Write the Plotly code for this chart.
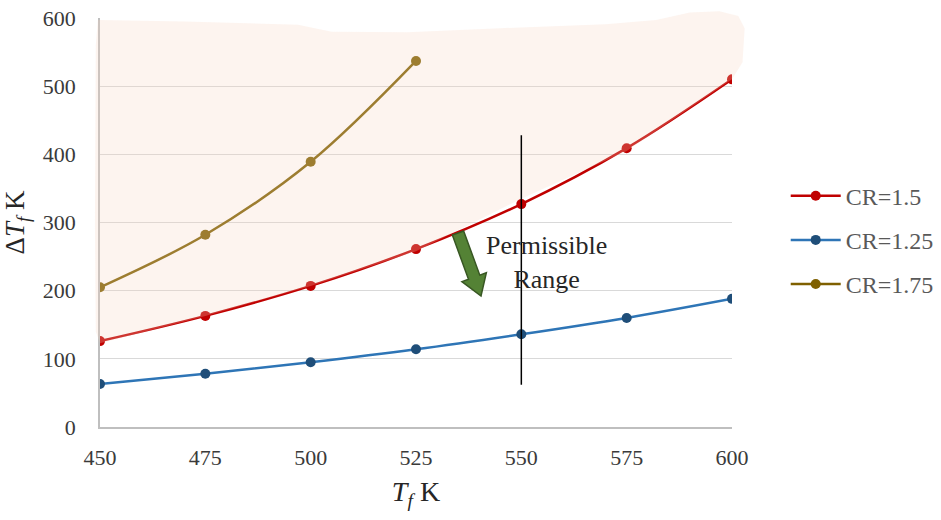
import plotly.graph_objects as go
import math

# ---- data ----
tf = [450, 475, 500, 525, 550, 575, 600]
cr150 = [126, 163, 207, 261, 327, 409, 510]
cr125 = [63, 78, 95, 114, 136, 160, 188]
tf175 = [450, 475, 500, 525]
cr175 = [205, 282, 389, 537]
x_ticks = [450, 475, 500, 525, 550, 575, 600]
y_ticks = [0, 100, 200, 300, 400, 500, 600]

XMIN, XMAX, YMIN, YMAX = 450, 600, 0, 600

def px(v):
    return (v - XMIN) / (XMAX - XMIN)

def py(v):
    return (v - YMIN) / (YMAX - YMIN)

fig = go.Figure()

fig.add_trace(go.Scatter(x=tf, y=cr150, name="CR=1.5", mode="lines+markers",
                         line=dict(color="#c00000", width=2.5, shape="spline"),
                         marker=dict(color="#c00000", size=10), legendgroup="a"))
fig.add_trace(go.Scatter(x=tf, y=cr125, name="CR=1.25", mode="lines+markers",
                         line=dict(color="#2e75b6", width=2.5, shape="spline"),
                         marker=dict(color="#1f4e79", size=10), legendgroup="b"))
fig.add_trace(go.Scatter(x=tf175, y=cr175, name="CR=1.75", mode="lines+markers",
                         line=dict(color="#7f6000", width=2.5, shape="spline"),
                         marker=dict(color="#7f6000", size=10), legendgroup="c"))

# shaded (hand-drawn) region outline: top/right edge, then down left side, then along red curve
outline_top = [(602.5, 535), (603, 585), (601.5, 603), (597, 610), (590, 608),
               (582, 597), (570, 591), (545, 585), (523, 579), (505, 580),
               (497, 590), (470, 595), (449.5, 597), (449.0, 560), (448.8, 300),
               (449.0, 140)]
offs = [-3, 0, 0, -3, 8, -4, 0]
pts = outline_top + [(x, y + o) for x, y, o in zip(tf, cr150, offs)]
path = "M " + " L ".join(f"{px(x):.5f},{py(y):.5f}" for x, y in pts) + " Z"

shapes = [
    dict(type="path", path=path, xref="paper", yref="paper",
         fillcolor="#f8d5c0", opacity=0.25, line=dict(width=0), layer="above"),
    dict(type="line", xref="x", yref="y", x0=550, x1=550, y0=62, y1=428,
         line=dict(color="black", width=1.5), layer="above"),
]

# block arrow (green), defined in pixel space of the plot area (632 x 409 px)
x0p, y0p = 458.0, 233.0
x1p, y1p = 481.0, 296.0
dx, dy = x1p - x0p, y1p - y0p
L = math.hypot(dx, dy)
ux, uy = dx / L, dy / L
nx, ny = -uy, ux
hw, hh, hl = 6.0, 13.0, 20.0
bx, by = x1p - ux * hl, y1p - uy * hl
apts = [(x0p + nx * hw, y0p + ny * hw), (bx + nx * hw, by + ny * hw),
        (bx + nx * hh, by + ny * hh), (x1p, y1p),
        (bx - nx * hh, by - ny * hh), (bx - nx * hw, by - ny * hw),
        (x0p - nx * hw, y0p - ny * hw)]

def ppx(p):
    return (p - 100) / 632.0

def ppy(p):
    return (427 - p) / 409.0

apath = "M " + " L ".join(f"{ppx(a):.5f},{ppy(b):.5f}" for a, b in apts) + " Z"
shapes.append(dict(type="path", path=apath, xref="paper", yref="paper",
                   fillcolor="#548235", line=dict(color="#385723", width=1.5), layer="above"))

SERIF = "Liberation Serif, Times New Roman, serif"

fig.update_layout(
    width=941, height=520,
    margin=dict(l=100, r=209, t=18, b=93, autoexpand=False),
    paper_bgcolor="white", plot_bgcolor="white",
    font=dict(family=SERIF, size=22, color="#3a3a3a"),
    shapes=shapes,
    showlegend=True,
    legend=dict(x=1.085, y=0.457, xanchor="left", yanchor="middle",
                font=dict(size=24, color="#595959"), tracegroupgap=10,
                itemwidth=50, bgcolor="rgba(0,0,0,0)"),
    annotations=[dict(x=556, y=242, xref="x", yref="y", showarrow=False,
                      text="Permissible<br>Range", align="center",
                      font=dict(size=26, color="#262626", family=SERIF))],
)
fig.update_xaxes(range=[XMIN, XMAX], tickvals=x_ticks, ticktext=[str(v) for v in x_ticks],
                 showgrid=False, showline=True, linecolor="#bfbfbf", linewidth=1.5,
                 ticks="", ticklabelstandoff=10, zeroline=False, automargin=False,
                 ticklabeloverflow="allow",
                 title=dict(text="<i>T</i><sub><i>f</i></sub> K", font=dict(size=28, color="#262626"), standoff=12))
fig.update_yaxes(range=[YMIN, YMAX], tickvals=y_ticks, showgrid=True, gridcolor="#d9d9d9",
                 gridwidth=1.2, showline=True, linecolor="#bfbfbf", linewidth=1.5,
                 ticks="", ticklabelstandoff=18, zeroline=False, automargin=False,
                 ticklabeloverflow="allow",
                 title=dict(text="Δ<i>T</i><sub><i>f</i></sub> K", font=dict(size=27, color="#262626"), standoff=10))

fig.write_html("out.html", config={"displayModeBar": False},
               post_script="document.body.style.margin='0';")
